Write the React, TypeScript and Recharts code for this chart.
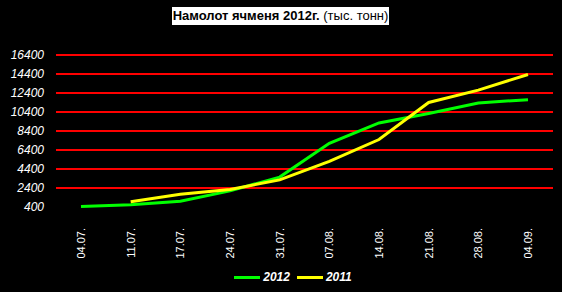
import React from 'react';
import {
  LineChart,
  Line,
  XAxis,
  YAxis,
  ReferenceLine,
  Legend
} from 'recharts';

const dates = ['04.07.', '11.07.', '17.07.', '24.07.', '31.07.', '07.08.', '14.08.', '21.08.', '28.08.', '04.09.'];
const harvest2012 = [450, 640, 1000, 2100, 3550, 7100, 9250, 10250, 11350, 11700];
const harvest2011: (number | null)[] = [null, 950, 1750, 2250, 3250, 5200, 7500, 11400, 12700, 14350];
const yTicks = [400, 2400, 4400, 6400, 8400, 10400, 12400, 14400, 16400];

const data = dates.map((d, i) => ({
  date: d,
  y2012: harvest2012[i],
  y2011: harvest2011[i]
}));

const DateTick = (props: any) => {
  const { x, y, payload } = props;
  return (
    <text
      x={x}
      y={y + 13}
      transform={`rotate(-90, ${x}, ${y + 13})`}
      textAnchor="end"
      dy="0.35em"
      fill="#fff"
      fontSize={11}
      fontFamily="'Liberation Sans', Arial, sans-serif"
    >
      {payload.value}
    </text>
  );
};

// red gridline snapped to whole pixel rows
const GridLine = (props: any) => {
  const { x1, x2, y1 } = props;
  const y = Math.round(y1);
  return <line x1={x1} x2={x2} y1={y} y2={y} stroke="#ff0000" strokeWidth={2} />;
};

const LegendContent = () => {
  const items = [
    { label: '2012', color: '#00ff00' },
    { label: '2011', color: '#ffff00' }
  ];
  return (
    <div style={{ display: 'flex', justifyContent: 'center', paddingTop: 18, paddingLeft: 40 }}>
      {items.map(it => (
        <div key={it.label} style={{ display: 'flex', alignItems: 'center', marginRight: 7 }}>
          <div style={{ width: 26, height: 3, background: it.color, marginRight: 3 }} />
          <span style={{
            color: '#fff',
            fontSize: 12,
            fontWeight: 'bold',
            fontStyle: 'italic',
            fontFamily: "'Liberation Sans', Arial, sans-serif"
          }}>{it.label}</span>
        </div>
      ))}
    </div>
  );
};

const App: React.FC = () => {
  return (
    <div style={{ position: 'absolute', left: 0, top: 0, width: 562, height: 292, background: '#000' }}>
      <div style={{
        position: 'absolute',
        left: 172,
        top: 7,
        width: 217,
        height: 18,
        background: '#fff',
        color: '#000',
        fontFamily: "'Liberation Sans', Arial, sans-serif",
        fontSize: 13,
        lineHeight: '18px',
        textAlign: 'center',
        whiteSpace: 'nowrap',
        zIndex: 1
      }}>
        <b>Намолот ячменя 2012г.</b> (тыс. тонн)
      </div>
      <LineChart width={562} height={292} data={data} margin={{ top: 55, right: 9, left: 0, bottom: 0 }}>
        <XAxis
          dataKey="date"
          axisLine={false}
          tickLine={false}
          height={45}
          interval={0}
          padding={{ left: 25, right: 25 }}
          tick={<DateTick />}
        />
        <YAxis
          domain={[400, 16400]}
          ticks={yTicks}
          interval={0}
          width={56}
          axisLine={false}
          tickLine={false}
          tickMargin={6}
          tick={{ fill: '#fff', fontSize: 12, fontStyle: 'italic', fontFamily: "'Liberation Sans', Arial, sans-serif" }}
        />
        {yTicks.slice(1).map(v => (
          <ReferenceLine key={v} y={v} stroke="#ff0000" shape={GridLine} />
        ))}
        <Legend verticalAlign="bottom" height={40} content={<LegendContent />} />
        <Line
          type="linear"
          dataKey="y2012"
          stroke="#00ff00"
          strokeWidth={3}
          dot={false}
          isAnimationActive={false}
        />
        <Line
          type="linear"
          dataKey="y2011"
          stroke="#ffff00"
          strokeWidth={3}
          dot={false}
          isAnimationActive={false}
        />
      </LineChart>
    </div>
  );
};

export default App;
